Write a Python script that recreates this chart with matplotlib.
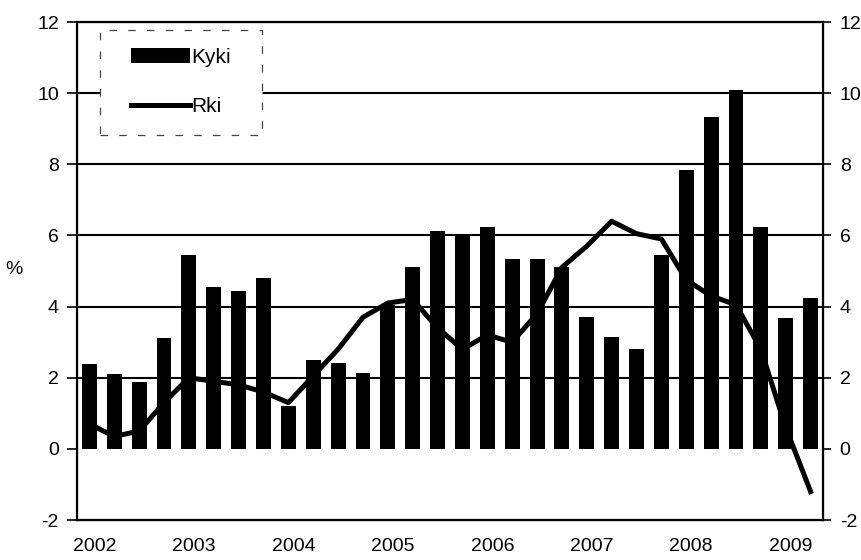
import numpy as np
import matplotlib
matplotlib.use("Agg")
import matplotlib.pyplot as plt
from matplotlib.patches import Rectangle

plt.rcParams['font.family'] = ['Liberation Sans', 'DejaVu Sans']
plt.rcParams['axes.unicode_minus'] = False

# Quarterly data 2002Q1 - 2009Q2
years = ["2002", "2003", "2004", "2005", "2006", "2007", "2008", "2009"]
kyki = [2.38, 2.1, 1.87, 3.12, 5.45, 4.55, 4.44, 4.8,
        1.2, 2.5, 2.4, 2.12, 4.05, 5.1, 6.12, 6.0,
        6.23, 5.35, 5.35, 5.12, 3.7, 3.15, 2.8, 5.45,
        7.84, 9.33, 10.1, 6.25, 3.68, 4.23]
rki = [0.7, 0.35, 0.5, 1.3, 2.0, 1.9, 1.8, 1.6,
       1.3, 2.05, 2.8, 3.7, 4.1, 4.2, 3.4, 2.8,
       3.2, 3.0, 3.8, 5.1, 5.7, 6.4, 6.05, 5.9,
       4.75, 4.3, 4.05, 2.8, 0.6, -1.2]
yticks = [-2, 0, 2, 4, 6, 8, 10, 12]

x = np.arange(len(kyki))

fig = plt.figure(figsize=(8.61, 5.6), dpi=100)
ax = fig.add_axes([0.0894, 0.0714, 0.8665, 0.8893])

for y in yticks[2:-1]:
    ax.axhline(y, color="black", lw=1.5, zorder=1)

bars = ax.bar(x, kyki, width=0.6, color="black", zorder=2, label="Kyki")
line, = ax.plot(x, rki, color="black", lw=3.6, zorder=3, label="Rki")

ax.set_xlim(-0.5, len(kyki) - 0.5)
ax.set_ylim(-2, 12)
ax.set_yticks(yticks)
ax.tick_params(axis="y", direction="out", length=7, width=1.2, labelsize=14, pad=6)
ax.set_xticks(x[::4] + 0.2)
ax.set_xticklabels(years, fontsize=14)
ax.tick_params(axis="x", length=0, pad=13)
for s in ax.spines.values():
    s.set_linewidth(1.6)

ax.set_ylabel("%", fontsize=14, rotation=0)
ax.yaxis.set_label_coords(-0.085, 0.485)

ax2 = ax.twinx()
ax2.set_ylim(-2, 12)
ax2.set_yticks(yticks)
ax2.tick_params(axis="y", direction="out", length=6, width=1.2, labelsize=14, pad=6)

# legend box (dashed frame) + frameless legend inside
box = Rectangle((0.031, 0.773), 0.217, 0.211, transform=ax.transAxes,
                facecolor="white", edgecolor="#444444", lw=0.9,
                linestyle=(0, (6, 9)), zorder=4)
ax.add_patch(box)
leg = ax.legend([bars, line], ["Kyki", "Rki"], loc="upper left",
                bbox_to_anchor=(0.073, 0.948), fontsize=15, frameon=False,
                handlelength=2.8, handleheight=0.7, handletextpad=0.05,
                labelspacing=1.45, borderpad=0, borderaxespad=0)
leg.set_zorder(5)

fig.savefig("out.png", dpi=100)
